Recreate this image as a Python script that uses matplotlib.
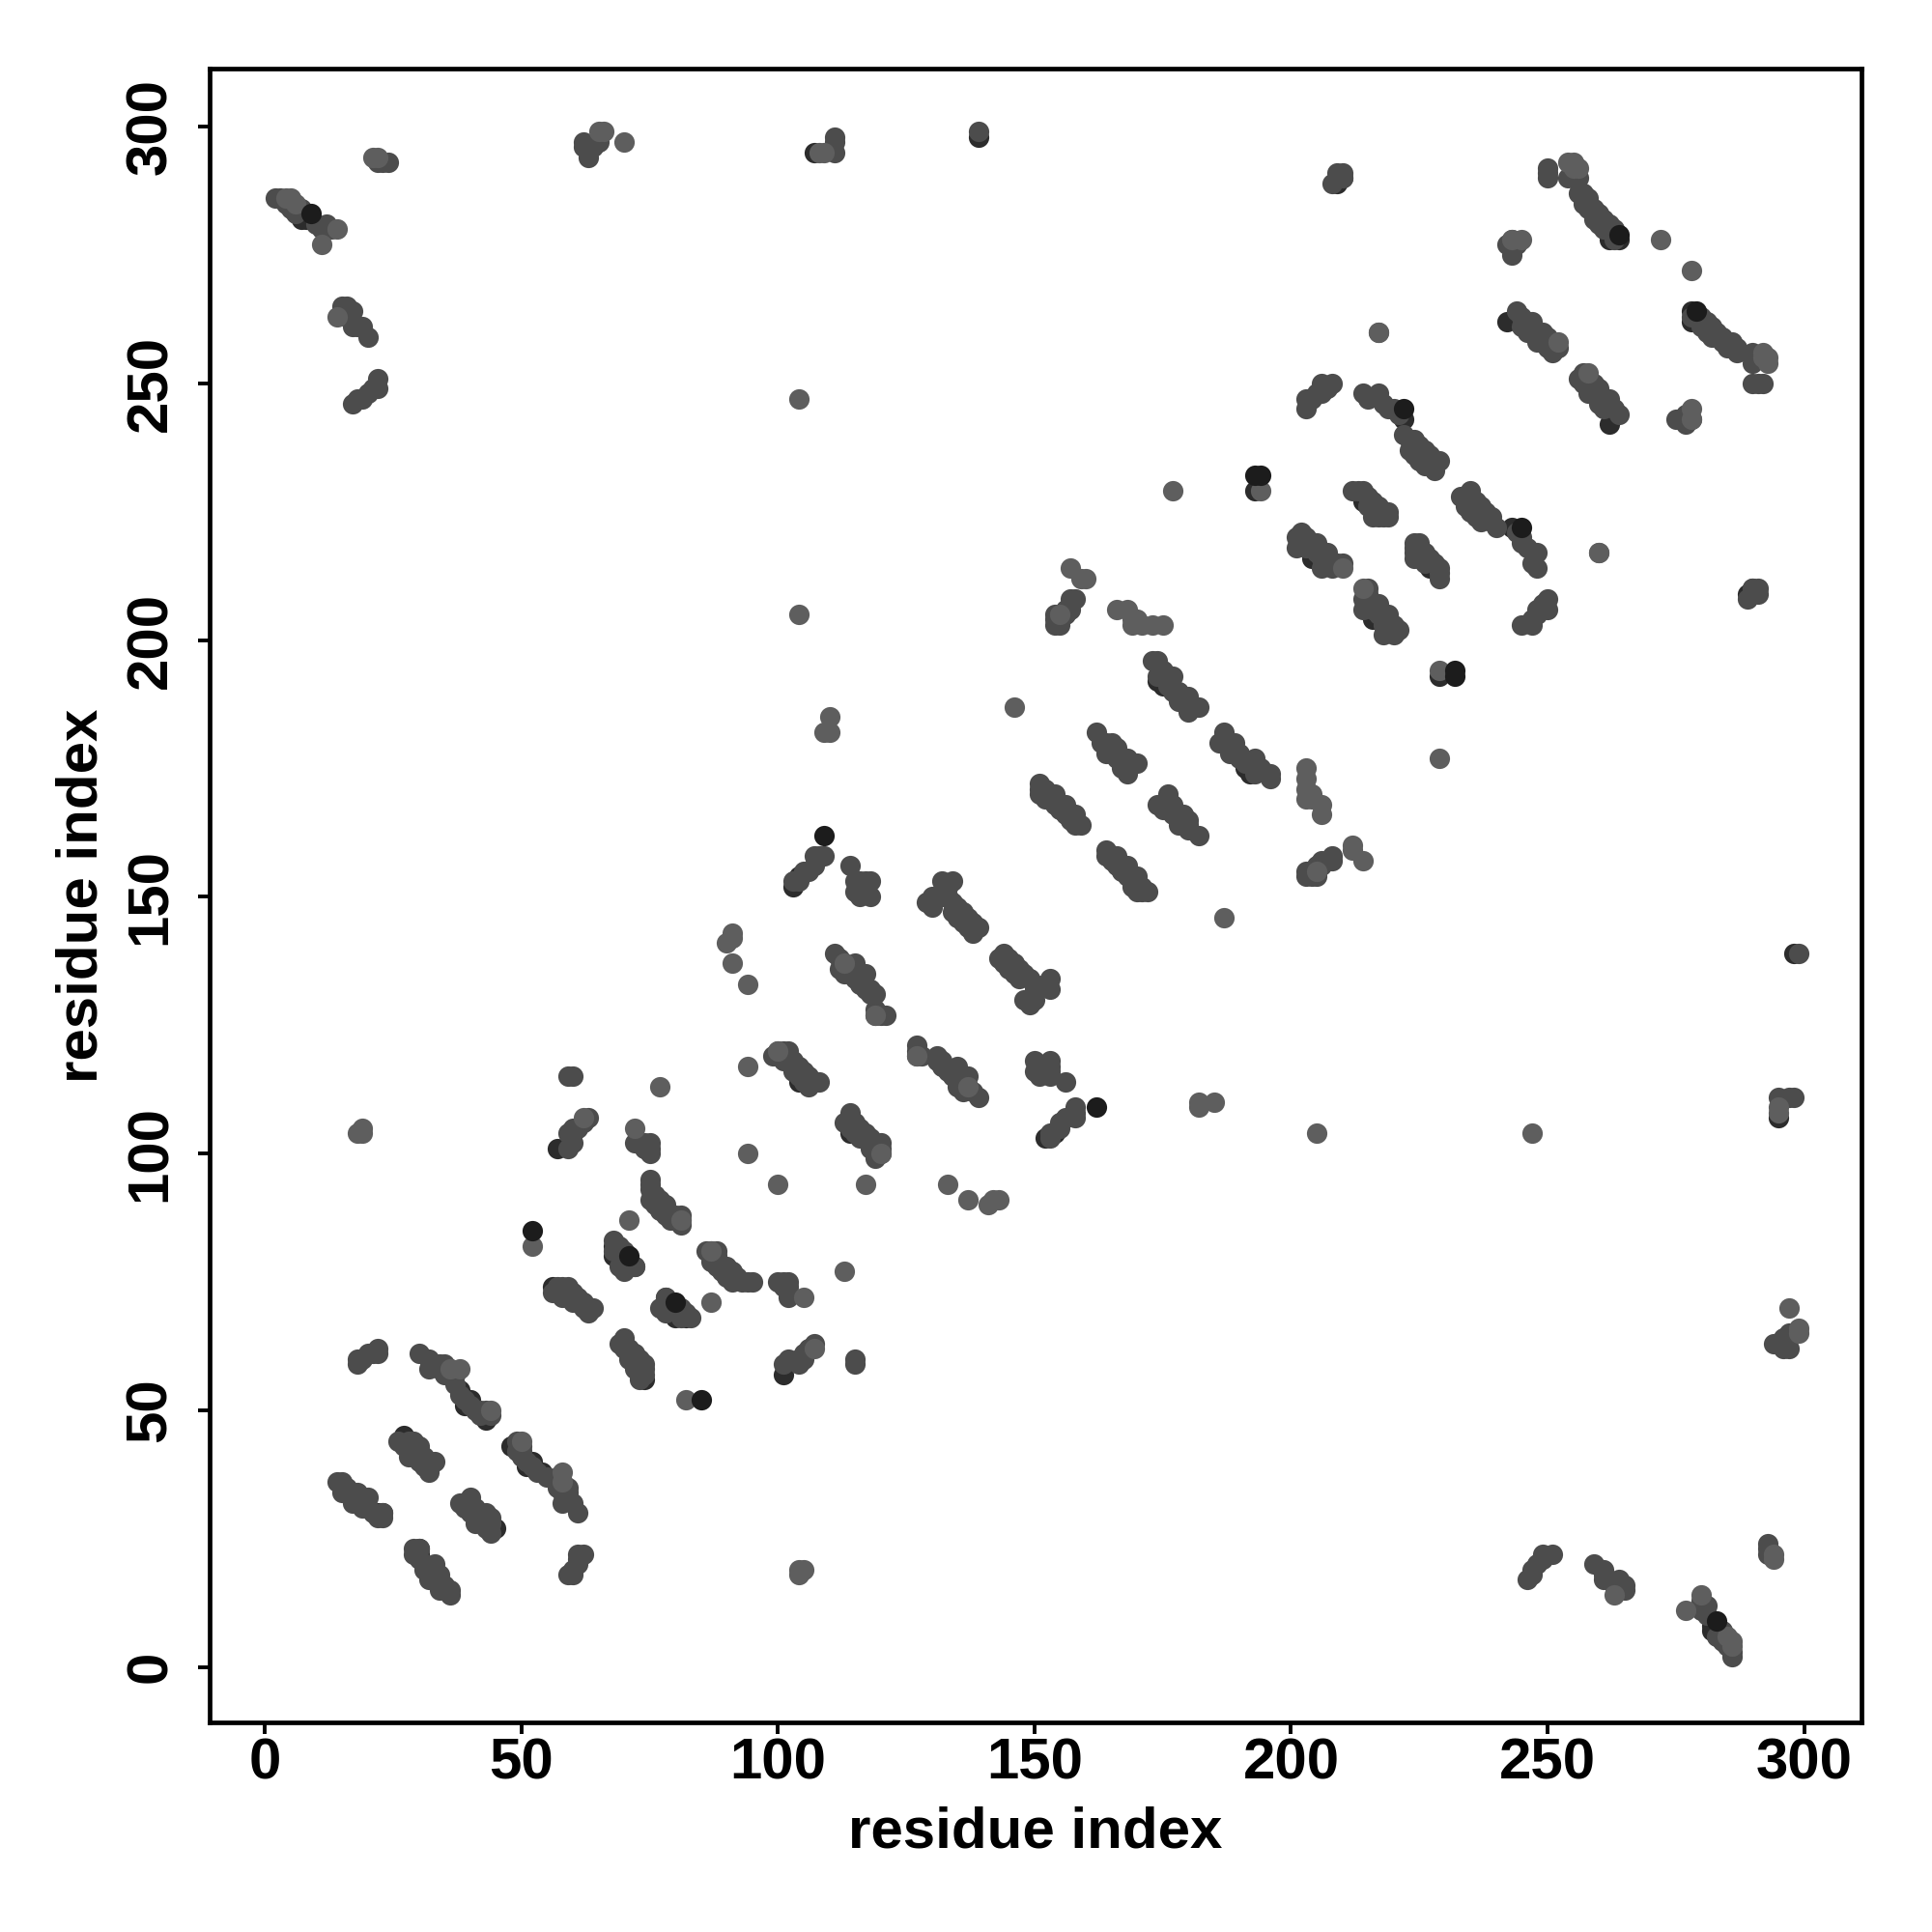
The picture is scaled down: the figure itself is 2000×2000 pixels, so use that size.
import numpy as np
import matplotlib
matplotlib.use("Agg")
import matplotlib.pyplot as plt

plt.rcParams['font.family'] = ['Liberation Sans', 'DejaVu Sans']
plt.rcParams['font.weight'] = 'bold'

under_contacts = [
    (57, 101), (39, 51), (40, 52), (68, 82), (69, 81), (68, 80), (69, 79), (79, 71), (81, 69),
    (209, 289), (193, 229), (242, 262), (264, 278), (103, 152), (104, 154), (56, 74), (60, 72),
    (38, 54), (43, 48), (22, 30), (18, 32), (222, 243), (139, 298), (107, 295),
    (262, 278), (204, 216), (214, 227), (104, 114), (174, 192), (175, 191),
    (27, 45), (7, 282), (8, 282), (30, 23), (290, 210),
]
mid_contacts = [
    # 1-60
    (2, 286), (3, 286), (4, 285), (5, 284), (6, 283), (7, 284), (10, 281), (12, 281), (11, 280),
    (13, 280), (22, 293), (23, 293), (24, 293), (15, 265), (16, 265), (16, 263), (17, 264),
    (17, 261), (18, 261), (19, 261), (20, 259), (17, 246), (18, 247), (19, 247), (20, 248),
    (21, 249), (22, 249), (22, 251), (14, 36), (15, 36), (15, 34), (16, 35), (17, 34), (17, 32),
    (18, 34), (18, 33), (19, 33), (19, 31), (20, 33), (20, 31), (21, 30), (22, 29), (23, 30),
    (23, 29), (26, 44), (27, 43), (28, 44), (28, 41), (29, 44), (29, 43), (29, 41), (30, 43),
    (30, 42), (30, 40), (31, 41), (31, 39), (32, 40), (32, 38), (33, 40), (30, 61), (32, 60),
    (32, 58), (33, 59), (34, 59), (34, 58), (35, 59), (35, 57), (36, 58), (37, 57), (37, 55),
    (38, 53), (39, 52), (40, 51), (41, 50), (42, 50), (42, 49), (43, 50), (44, 49), (18, 59),
    (18, 60), (19, 60), (20, 61), (21, 61), (22, 61), (22, 62), (56, 73), (57, 74), (57, 73),
    (58, 74), (58, 72), (59, 74), (59, 72), (60, 73), (60, 71), (61, 72), (61, 71), (62, 71),
    (62, 70), (63, 70), (63, 69), (64, 70), (59, 101), (60, 102), (59, 104), (60, 104), (60, 105),
    (61, 105), (62, 106), (63, 107), (59, 115), (60, 115), (72, 102), (73, 102), (74, 102),
    (75, 102), (75, 101), (75, 100), (74, 101), (75, 95), (75, 94), (75, 93), (75, 91), (76, 92),
    (76, 90), (77, 91), (77, 89), (78, 90), (78, 88), (79, 88), (79, 87), (80, 87), (80, 88),
    (81, 88), (81, 87), (81, 86), (68, 81), (69, 82), (69, 78), (70, 81), (70, 80), (71, 78),
    (72, 78), (70, 77), (72, 78), (71, 79), (68, 83),
    # 100-160
    (99, 119), (100, 120), (100, 119), (101, 120), (101, 118), (102, 120), (102, 118), (103, 118),
    (103, 116), (104, 117), (104, 115), (105, 116), (105, 114), (106, 115), (106, 113), (107, 114),
    (108, 114), (111, 139), (112, 138), (112, 136), (113, 137), (113, 135), (114, 136), (115, 137),
    (115, 134), (116, 135), (116, 133), (117, 135), (117, 132), (118, 132), (118, 131), (119, 131),
    (119, 128), (119, 127), (120, 127), (121, 127), (103, 153), (104, 153), (105, 155), (106, 155),
    (107, 156), (107, 158), (108, 158), (109, 158), (114, 156), (115, 153), (116, 153), (115, 151),
    (116, 150), (117, 153), (117, 151), (118, 153), (118, 150), (129, 149), (130, 148), (130, 150),
    (132, 153), (133, 152), (134, 153), (132, 150), (133, 150), (134, 147), (134, 149), (135, 146),
    (135, 148), (136, 145), (136, 147), (137, 144), (137, 146), (138, 143), (138, 145), (139, 144),
    (139, 299), (151, 172), (151, 171), (151, 170), (152, 169), (152, 171), (153, 169), (154, 170),
    (154, 168), (155, 167), (156, 168), (156, 166), (157, 165), (158, 166), (158, 164), (159, 164),
    (154, 203), (154, 204), (154, 205), (155, 203), (156, 205), (156, 206), (157, 206), (157, 208),
    (158, 208),
    # 160-230
    (162, 182), (163, 180), (164, 178), (164, 180), (165, 180), (165, 178), (166, 177), (166, 179),
    (167, 176), (167, 175), (168, 177), (168, 174), (169, 176), (170, 176), (173, 196), (174, 196),
    (174, 193), (175, 194), (176, 193), (176, 191), (177, 193), (177, 190), (178, 190), (178, 188),
    (179, 188), (180, 189), (180, 186), (181, 187), (182, 187), (201, 218), (201, 220), (202, 221),
    (203, 220), (203, 218), (204, 219), (205, 219), (205, 217), (206, 216), (206, 214), (207, 217),
    (208, 215), (208, 214), (209, 215), (210, 215), (203, 245), (203, 247), (204, 247), (205, 248),
    (206, 248), (206, 250), (207, 249), (208, 250), (208, 289), (209, 291), (210, 290), (210, 291),
    (214, 248), (215, 247), (217, 248), (218, 246), (219, 245), (220, 245), (221, 244), (222, 240),
    (223, 239), (223, 237), (224, 239), (224, 236), (225, 238), (225, 235), (226, 237), (226, 234),
    (227, 236), (227, 234), (228, 235), (228, 233), (229, 235), (212, 229), (213, 229), (214, 229),
    (215, 228), (215, 226), (216, 227), (216, 224), (217, 226), (217, 224), (218, 224), (219, 225),
    (219, 224),
    # 240-300
    (243, 275), (243, 278), (244, 277), (242, 277), (244, 264), (245, 263), (245, 261), (246, 262),
    (246, 260), (247, 262), (248, 260), (248, 258), (249, 260), (250, 257), (250, 259), (251, 258),
    (251, 256), (252, 257), (250, 290), (250, 291), (250, 292), (254, 290), (255, 290), (256, 290),
    (256, 287), (257, 285), (257, 287), (258, 286), (258, 284), (259, 284), (259, 282), (260, 283),
    (260, 281), (261, 282), (261, 280), (262, 281), (263, 280), (263, 278),
    (62, 297), (62, 296), (63, 296), (63, 294), (64, 296), (65, 297), (111, 295), (111, 297), (111, 298),
]
light_contacts = [
    (5, 286), (6, 285), (4, 286), (11, 277), (14, 280), (14, 263), (21, 294), (22, 294), (65, 299),
    (66, 299), (70, 297), (108, 295), (109, 295), (104, 247), (104, 205), (18, 104), (19, 104),
    (19, 105), (52, 82), (71, 87), (77, 113), (94, 100), (94, 117), (90, 141), (91, 142), (91, 143),
    (91, 137), (94, 133), (72, 105), (62, 107), (38, 58), (44, 50), (36, 58), (81, 87),
    (109, 182), (110, 182), (110, 185), (146, 187), (157, 214), (159, 212), (160, 212), (155, 205),
    (166, 206), (168, 206), (169, 204), (169, 203), (170, 204), (171, 203), (173, 203), (175, 203),
    (177, 229), (194, 229), (217, 260), (243, 278), (245, 278), (254, 293), (255, 293), (255, 292),
    (256, 292), (272, 278), (252, 258), (260, 217), (100, 120), (119, 127), (113, 137), (210, 214),
]
top_contacts = [
    (52, 85), (109, 162), (264, 279), (193, 232), (194, 232), (222, 245), (71, 80), (9, 283),
]

ticks = [0, 50, 100, 150, 200, 250, 300]
# grey of each layer, back to front
layers = [(under_contacts, '#2c2c2c'), (mid_contacts, '#4c4c4c'),
          (light_contacts, '#5e5e5e'), (top_contacts, '#1c1c1c')]

fig = plt.figure(figsize=(10, 10), dpi=200)
ax = fig.add_axes([0.1085, 0.1085, 0.855, 0.856])

for contacts, grey in layers:
    pairs = np.array(contacts)
    x = np.concatenate([pairs[:, 0], pairs[:, 1]])
    y = np.concatenate([pairs[:, 1], pairs[:, 0]])
    ax.scatter(x, y, s=58, c=grey, linewidths=0, zorder=3)

ax.set_xlim(-10.8, 311.2)
ax.set_ylim(-10.8, 311.3)
ax.set_xticks(ticks)
ax.set_yticks(ticks)
ax.tick_params(axis='both', length=4.4, width=1.4, labelsize=21.6)
ax.tick_params(axis='x', pad=1)
ax.tick_params(axis='y', pad=7.5)
plt.setp(ax.get_yticklabels(), rotation=90, va='center')
for side in ax.spines.values():
    side.set_linewidth(1.7)

ax.set_xlabel('residue index', fontsize=21.6, fontweight='bold', labelpad=6)
ax.set_ylabel('residue index', fontsize=21.6, fontweight='bold', labelpad=6)

fig.savefig('out.png', dpi=200)
